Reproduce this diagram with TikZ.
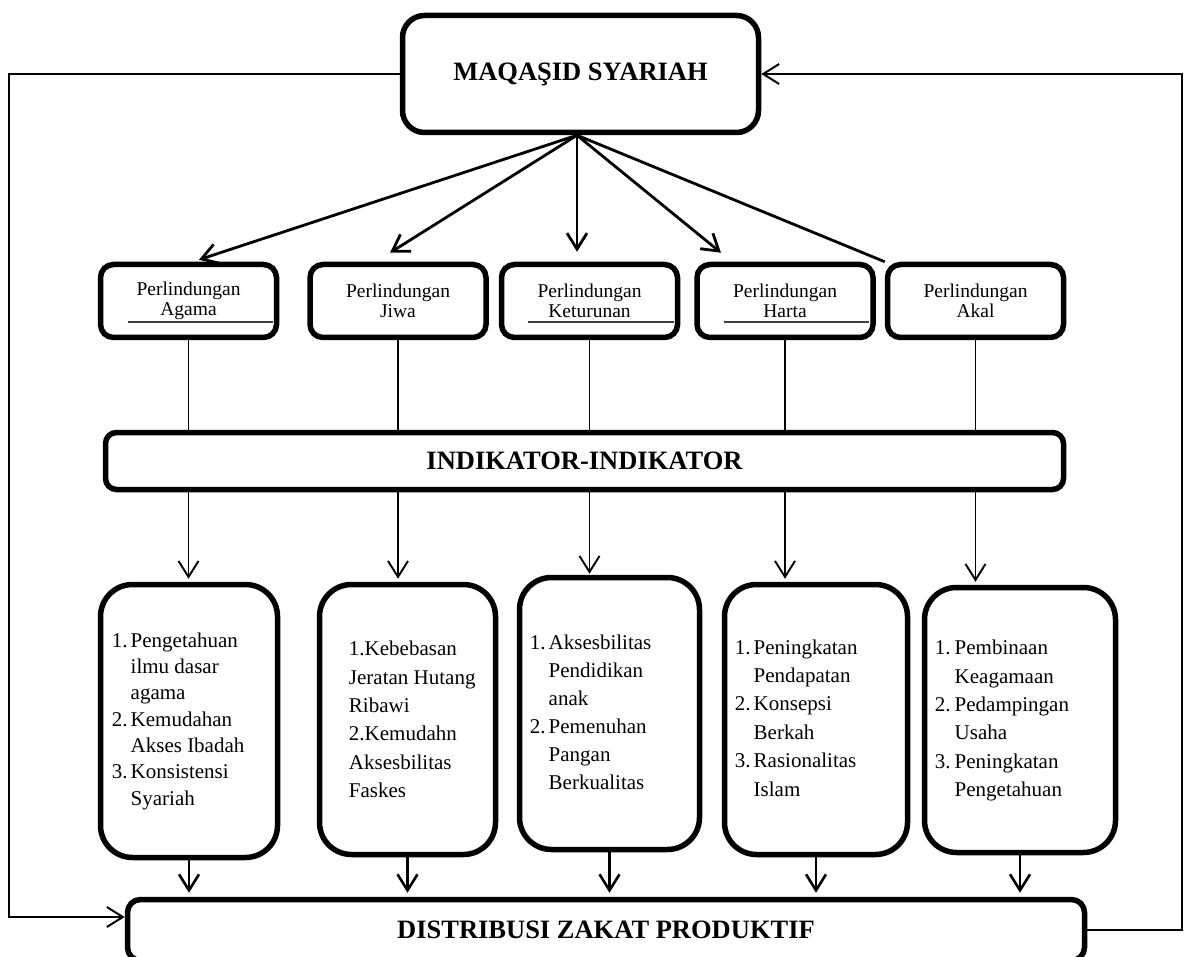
\documentclass[tikz,border=0pt]{standalone}
\usepackage{fontspec}
\setmainfont{Liberation Serif}
\usetikzlibrary{arrows.meta,calc}
\begin{document}
\begin{tikzpicture}[x=1pt,y=-1pt,
  box/.style={draw, line width=5.5pt, inner sep=0pt, fill=white},
  headbox/.style={box, rounded corners=22pt, font=\bfseries\fontsize{26.5}{30}\selectfont},
  barbox/.style={box, rounded corners=11pt, font=\bfseries\fontsize{26.5}{30}\selectfont},
  perl/.style={box, rounded corners=13pt, minimum width=176pt, minimum height=73pt,
    align=center, font=\fontsize{19.5}{20.5}\selectfont},
  itembox/.style={box, rounded corners=32pt},
  itemtext/.style={inner sep=0pt, anchor=west, align=left},
  barb/.style={-{Straight Barb[length=16pt,width=20pt]}},
  fan/.style={barb, line width=2.8pt},
  plain/.style={line width=1.6pt},
  down/.style={barb, line width=1.9pt},
  feed/.style={barb, line width=2.6pt},
  ret/.style={line width=2pt},
  uline/.style={line width=2pt, draw=black!75},
]
\useasboundingbox (0,0) rectangle (1186,957);
\clip (0,0) rectangle (1186,957);

% top goal
\node[headbox, minimum width=356pt, minimum height=117pt] (maq) at (580.5,74) {MAQAŞID SYARIAH};
\coordinate (hub) at ($(maq.south)+(-3.5,0)$);

% five protections
\node[perl] (p1) at (188.5,301) {Perlindungan\\Agama};
\node[perl] (p2) at (398,301) {Perlindungan\\Jiwa};
\node[perl] (p3) at (589.5,301) {Perlindungan\\Keturunan};
\node[perl] (p4) at (785,301) {Perlindungan\\Harta};
\node[perl] (p5) at (975.5,301) {Perlindungan\\Akal};

% stray rules under three of the labels
\draw[uline] (128,322) -- (273,322);
\draw[uline] (528,322) -- (674,322);
\draw[uline] (724,322) -- (869,322);

% indicator bar
\node[barbox, minimum width=958pt, minimum height=57pt] (ind) at (584.5,461) {INDIKATOR-INDIKATOR};

% indicator boxes
\node[itembox, minimum width=177pt, minimum height=273pt] (b1) at (189,721) {};
\node[itembox, minimum width=176pt, minimum height=270pt] (b2) at (407.5,719.5) {};
\node[itembox, minimum width=180pt, minimum height=272pt] (b3) at (609.5,713.5) {};
\node[itembox, minimum width=183pt, minimum height=270pt] (b4) at (816,719.5) {};
\node[itembox, minimum width=191pt, minimum height=265pt] (b5) at (1020,720) {};

\node[itemtext, font=\fontsize{21}{26.3}\selectfont] (t1) at ($(b1.west)+(14,0)$)
  {\begin{tabular}{@{}l@{\hspace{3pt}}l@{}}
   1. & Pengetahuan\\ & ilmu dasar\\ & agama\\
   2. & Kemudahan\\ & Akses Ibadah\\
   3. & Konsistensi\\ & Syariah
   \end{tabular}};
\node[itemtext, font=\fontsize{21}{28.4}\selectfont] (t2) at ($(b2.west)+(32,0)$)
  {1.Kebebasan\\Jeratan Hutang\\Ribawi\\2.Kemudahn\\Aksesbilitas\\Faskes};
\node[itemtext, font=\fontsize{21}{28}\selectfont] (t3) at ($(b3.west)+(13,0)$)
  {\begin{tabular}{@{}l@{\hspace{3pt}}l@{}}
   1. & Aksesbilitas\\ & Pendidikan\\ & anak\\
   2. & Pemenuhan\\ & Pangan\\ & Berkualitas
   \end{tabular}};
\node[itemtext, font=\fontsize{21}{28.4}\selectfont] (t4) at ($(b4.west)+(13,0)$)
  {\begin{tabular}{@{}l@{\hspace{3pt}}l@{}}
   1. & Peningkatan\\ & Pendapatan\\
   2. & Konsepsi\\ & Berkah\\
   3. & Rasionalitas\\ & Islam
   \end{tabular}};
\node[itemtext, font=\fontsize{21}{28.4}\selectfont] (t5) at ($(b5.west)+(13,0)$)
  {\begin{tabular}{@{}l@{\hspace{4pt}}l@{}}
   1. & Pembinaan\\ & Keagamaan\\
   2. & Pedampingan\\ & Usaha\\
   3. & Peningkatan\\ & Pengetahuan
   \end{tabular}};

% outcome bar (runs past the lower edge)
\node[barbox, rounded corners=13pt, minimum width=957pt, minimum height=61pt] (dist) at (606,930) {DISTRIBUSI ZAKAT PRODUKTIF};

% fan from the goal to the protections
\draw[fan] (hub) -- ($(p1.north)+(10.5,-2)$);
\draw[fan] (hub) -- ($(p2.north)+(-8,-9)$);
\draw[fan] (hub) -- ($(p3.north)+(-12.5,-10)$);
\draw[fan] (hub) -- ($(p4.north)+(-64,-9)$);
\draw[line width=2.8pt] (hub) -- (p5.north west);

% protections into the indicator bar
\foreach \p in {p1,p2,p3,p4,p5}
  \draw[plain] (\p.south) -- (\p.south |- ind.north);

% indicator bar down to the boxes
\draw[down, shorten >=3pt] (p1.south |- ind.south) -- (p1.south |- b1.north);
\draw[down, shorten >=3pt] (p2.south |- ind.south) -- (p2.south |- b2.north);
\draw[down, shorten >=1pt] (p3.south |- ind.south) -- (p3.south |- b3.north);
\draw[down, shorten >=3pt] (p4.south |- ind.south) -- (p4.south |- b4.north);
\draw[down, shorten >=3pt] (p5.south |- ind.south) -- (p5.south |- b5.north);

% boxes into the outcome bar
\foreach \b in {b1,b2,b3,b4,b5}
  \draw[feed, shorten >=4pt] (\b.south) -- (\b.south |- dist.north);

% feedback loops
\coordinate (lx) at (9,500);
\coordinate (rx) at (1182,500);
\draw[ret, barb] (maq.west) -| (lx) |- ([yshift=13pt]dist.west);
\draw[ret, barb] (dist.east) -| (rx) |- (maq.east);
\end{tikzpicture}
\end{document}
